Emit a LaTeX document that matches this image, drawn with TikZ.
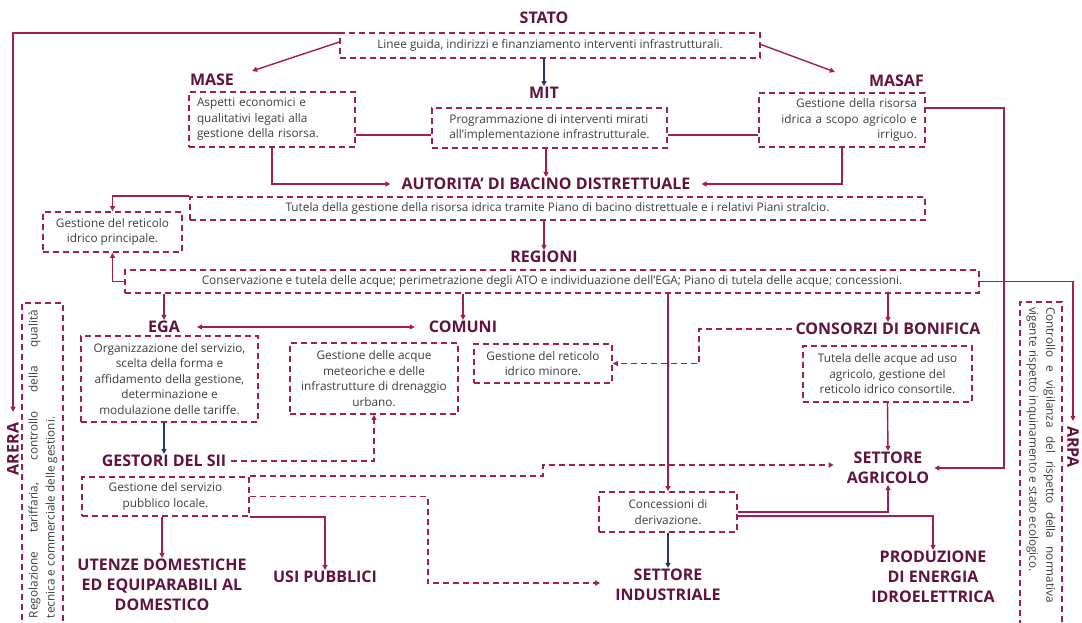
\documentclass[tikz,border=0pt]{standalone}
\usepackage{fontspec}
\setmainfont{Open Sans}
\usetikzlibrary{arrows.meta}
\usetikzlibrary{positioning}
\usetikzlibrary{calc}
\definecolor{linecol}{RGB}{162,30,82}
\definecolor{headcol}{RGB}{98,18,62}
\definecolor{navycol}{RGB}{31,56,110}
\definecolor{txtcol}{RGB}{62,62,62}
\tikzstyle{box}=[draw=linecol,line width=1.8pt,dash pattern=on 6pt off 4pt,text=txtcol,font=\fontsize{11.8}{15.5}\selectfont,inner sep=0pt,align=center]
\tikzstyle{frame}=[draw=linecol,line width=1.8pt,dash pattern=on 6pt off 4pt,inner sep=0pt]
\tikzstyle{sidetext}=[text=txtcol,font=\fontsize{11.8}{17}\selectfont,inner sep=0pt,align=justify]
\tikzstyle{head}=[text=headcol,font=\fontsize{16}{20}\selectfont\bfseries,align=center,inner sep=1pt]
\tikzstyle{edge}=[draw=linecol,line width=1.4pt,->]
\tikzstyle{link}=[draw=linecol,line width=1.4pt]
\tikzstyle{dedge}=[draw=linecol,line width=1.8pt,dash pattern=on 6pt off 4pt,->]
\tikzstyle{bedge}=[draw=navycol,line width=1.3pt,->]

\begin{document}
\begin{tikzpicture}[x=1pt,y=-1pt,>={Triangle[length=5pt,width=5pt]}]
    \useasboundingbox (0,0) rectangle (1082,623);

    % First the titles
    \foreach \pos/\name/\label in {{(544,18)/statolbl/STATO}, {(212,80)/maselbl/MASE}, {(544,93)/mitlbl/MIT},
        {(546,184)/autlbl/AUTORITA’ DI BACINO DISTRETTUALE}, {(544,257)/reglbl/REGIONI}, {(164,327)/egalbl/EGA},
        {(463,327)/comlbl/COMUNI}, {(888,329)/conslbl/CONSORZI DI BONIFICA}, {(164,461)/gestlbl/GESTORI DEL SII},
        {(888,468)/agrilbl/SETTORE\\AGRICOLO}, {(162,585)/utenlbl/UTENZE DOMESTICHE\\ED EQUIPARABILI AL\\DOMESTICO},
        {(325,577)/usilbl/USI PUBBLICI}, {(668,585)/indlbl/SETTORE\\INDUSTRIALE},
        {(933,577)/prodlbl/PRODUZIONE\\DI ENERGIA\\IDROELETTRICA}}
        \node[head] (\name) at \pos {\label};
    \node[head, anchor=east] (masaflbl) at (925,81) {MASAF};
    \node[head, rotate=90] (areralbl) at (13,449) {ARERA};
    \node[head, rotate=-90] (arpalbl) at (1073,447) {ARPA};

    % Then the dashed boxes
    \node[box, minimum width=420pt, minimum height=25pt] (stato) at (550,45.5) {Linee guida, indirizzi e finanziamento interventi infrastrutturali.};
    \node[box, minimum width=166pt, minimum height=55pt, text width=150pt, align=left] (mase) at (272,119.5) {Aspetti economici e\\qualitativi legati alla\\gestione della risorsa.};
    \node[box, minimum width=235pt, minimum height=40pt, align=left] (mit) at (549.5,128) {Programmazione di interventi mirati\\all’implementazione infrastrutturale.};
    \node[box, minimum width=166pt, minimum height=54pt, text width=150pt, align=right] (masaf) at (842,120) {Gestione della risorsa\\idrica a scopo agricolo e\\irriguo.};
    \node[box, minimum width=735pt, minimum height=23pt] (aut) at (557.5,208.5) {Tutela della gestione della risorsa idrica tramite Piano di bacino distrettuale e i relativi Piani stralcio.};
    \node[box, minimum width=139pt, minimum height=40pt] (princ) at (112.5,232) {Gestione del reticolo\\idrico principale.};
    \node[box, minimum width=854pt, minimum height=23pt] (reg) at (552,281.5) {Conservazione e tutela delle acque; perimetrazione degli ATO e individuazione dell’EGA; Piano di tutela delle acque; concessioni.};
    \node[box, minimum width=177pt, minimum height=86pt] (ega) at (169.5,379) {Organizzazione del servizio,\\scelta della forma e\\affidamento della gestione,\\determinazione e\\modulazione delle tariffe.};
    \node[box, minimum width=168pt, minimum height=71pt] (meteo) at (374,378.5) {Gestione delle acque\\meteoriche e delle\\infrastrutture di drenaggio\\urbano.};
    \node[box, minimum width=138pt, minimum height=39pt] (minore) at (543,363.5) {Gestione del reticolo\\idrico minore.};
    \node[box, minimum width=169pt, minimum height=56pt] (cons) at (887.5,374) {Tutela delle acque ad uso\\agricolo, gestione del\\reticolo idrico consortile.};
    \node[box, minimum width=167pt, minimum height=39pt] (spl) at (165.5,496.5) {Gestione del servizio\\pubblico locale.};
    \node[box, minimum width=138pt, minimum height=40pt] (conc) at (668,512) {Concessioni di\\derivazione.};

    % Side boxes (run off the bottom)
    \node[frame, minimum width=41pt, minimum height=347pt] (areraframe) at (42.5,476.5) {};
    \node[sidetext, rotate=90, text width=308pt] (areratext) at (43,464) {Regolazione tariffaria, controllo della qualità\linebreak tecnica e commerciale delle gestioni.};
    \node[frame, minimum width=42pt, minimum height=348pt] (arpaframe) at (1041,476) {};
    \node[sidetext, rotate=-90, text width=296pt] (arpatext) at (1041,455) {Controllo e vigilanza del rispetto della normativa\linebreak vigente rispetto inquinamento e stato ecologico.};

    \coordinate (midline) at (0,135);

    % Connect the boxes
    \draw[edge, shorten >=10pt] ([yshift=-1pt]stato.north west) -| (areralbl.east);
    \draw[edge] ([yshift=-10pt]stato.north west) -- ([xshift=17pt,yshift=2pt]maselbl.north east);
    \draw[edge] ([yshift=1pt]stato.east) -- ([xshift=-33pt,yshift=2pt]masaflbl.north west);
    \draw[bedge] (mitlbl.north |- stato.south) -- (mitlbl.north);
    \path[link] (mase.east |- midline) -- (mit.west |- midline);
    \path[link] (mit.east |- midline) -- (masaf.west |- midline);
    \draw[edge] (mase.south) |- ([xshift=-10pt]autlbl.west);
    \draw[edge] (masaf.south) |- ([xshift=10pt]autlbl.east);
    \draw[edge] (autlbl.north |- mit.south) -- (autlbl.north);
    \draw[edge] ([yshift=12pt]masaf.east) -- ++(78,0) |- ([xshift=4pt]agrilbl.east);

    \draw[edge] (aut.north west) -| (princ.north);
    \draw[edge] (reglbl.north |- aut.south) -- (reglbl.north);

    \draw[edge] (reg.west) -| (princ.south);
    \foreach \dest in {egalbl, comlbl, conslbl, conc}
        \draw[edge] (\dest.north |- reg.south) -- (\dest.north);
    \draw[edge, shorten >=4pt] (reg.east) -| (arpalbl.west);

    \draw[edge, <->] ([xshift=16pt]egalbl.east) -- ([xshift=-13pt]comlbl.west);
    \draw[dedge] ([xshift=-2pt]conslbl.west) -- ++(-93,0) |- (minore.east);
    \draw[edge] (cons.south) -- (agrilbl.north);

    \draw[bedge] (gestlbl.north |- ega.south) -- (gestlbl.north);
    \draw[dedge] ([xshift=4pt]gestlbl.east) -| (meteo.south);

    \draw[dedge] (spl.north east) -- ++(293,0) |- ([xshift=-12pt,yshift=3pt]agrilbl.west);
    \draw[dedge] (spl.east) -- ++(178,0) |- ([xshift=-14pt,yshift=2pt]indlbl.west);
    \draw[edge] (utenlbl.north |- spl.south) -- (utenlbl.north);
    \draw[edge] (spl.south east) -| (usilbl.north);

    \draw[bedge] (conc.south) -- (indlbl.north);
    \draw[edge] (conc.east) -| (agrilbl.south);
    \draw[edge] ([yshift=-4pt]conc.east) -| (prodlbl.north);
\end{tikzpicture}
\end{document}
